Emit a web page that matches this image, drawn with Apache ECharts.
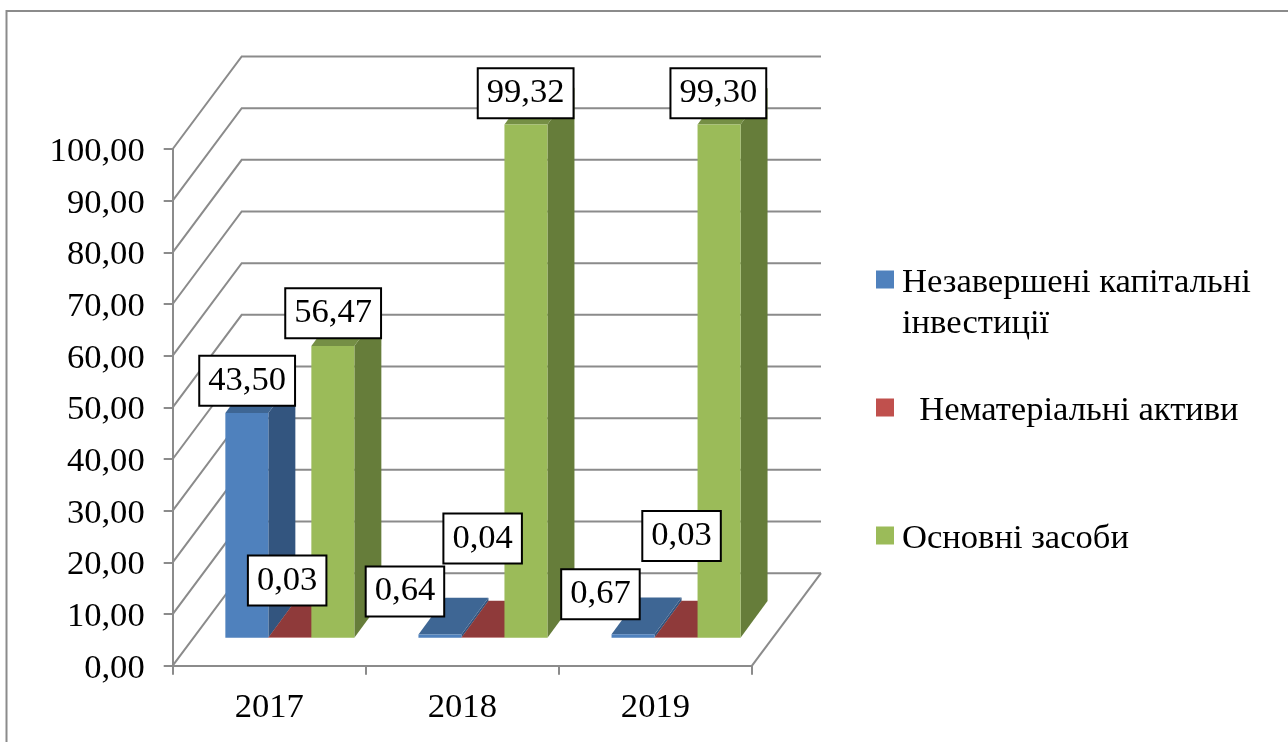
<!DOCTYPE html>
<html><head><meta charset="utf-8">
<style>html,body{margin:0;padding:0;background:#fff}#c{width:1288px;height:742px}</style>
<script src="https://cdn.jsdelivr.net/npm/echarts@6/dist/echarts.min.js"></script>
</head><body><div id="c"></div>
<script>
const categories = ['2017', '2018', '2019'];
const yTicks = [0, 10, 20, 30, 40, 50, 60, 70, 80, 90, 100];
const names = ['Незавершені капітальні інвестиції', 'Нематеріальні активи', 'Основні засоби'];
const unfinished = [43.50, 0.64, 0.67];
const intangible = [0.03, 0.04, 0.03];
const fixedAssets = [56.47, 99.32, 99.30];

const FONT = '"Liberation Serif","Times New Roman",serif';
const FS = 34.6;
const GRAY = '#8b8b8b';
const LW = 2;
const WALL_DX = 69, WALL_DY = 92.5;      // depth of the chart box
const BAR_DX = 27, BAR_DY = 36.7;        // depth of one bar
const FLOOR_DX = 20.6, FLOOR_DY = 28;    // gap from the box front to the bar front
const BAR_W = 43;
// label box nudges relative to the top centre of each bar
const nudges = [
  [[0.3, -32.3], [-35, -43], [-32.6, -40]],
  [[-2.7, -57], [-0.3, -99], [5.5, -101.5]],
  [[0.3, -32.7], [-0.3, -31.3], [-0.7, -31.3]]
];
const palettes = [
  {front: '#4f81bd', side: '#33557f', top: '#3e6694'},
  {front: '#c0504d', side: '#843634', top: '#8f3a3a'},
  {front: '#9bbb59', side: '#667d3a', top: '#758f45'}
];
// square legend key sitting in the upper part of its slot, so it lines up with the text
const LEGEND_ICON = 'path://M0 0H18V18H0ZM0 24H.01V24.01H0Z';
const fmt = v => v.toFixed(2).replace('.', ',');

function poly(points, fill) {
  return {type: 'polygon', shape: {points}, style: {fill, stroke: null}};
}
function barSeries(idx, values) {
  const pal = palettes[idx];
  return {
    name: names[idx], type: 'custom', coordinateSystem: 'cartesian2d',
    itemStyle: {color: pal.front},
    data: values.map((v, i) => [i, v]),
    encode: {x: 0, y: 1},
    renderItem(params, api) {
      const i = api.value(0), v = api.value(1);
      const top = api.coord([i, v]), base = api.coord([i, 0]);
      const l = top[0] + FLOOR_DX + (idx - 1.5) * BAR_W, r = l + BAR_W;
      const yT = top[1] - FLOOR_DY, yB = base[1] - FLOOR_DY;
      const n = nudges[idx][i];
      return {type: 'group', children: [
        poly([[r, yT], [r + BAR_DX, yT - BAR_DY], [r + BAR_DX, yB - BAR_DY], [r, yB]], pal.side),
        poly([[l, yT], [l + BAR_DX, yT - BAR_DY], [r + BAR_DX, yT - BAR_DY], [r, yT]], pal.top),
        poly([[l, yT], [r, yT], [r, yB], [l, yB]], pal.front),
        {type: 'text', z2: 100, style: {
          text: fmt(v), x: l + BAR_W / 2 + n[0], y: yT + n[1],
          align: 'center', verticalAlign: 'middle',
          font: FS + 'px ' + FONT, fill: '#000',
          backgroundColor: '#fff', borderColor: '#000', borderWidth: 2,
          padding: [9, 8, 4, 8]
        }}
      ]};
    }
  };
}
const wallSeries = {
  type: 'custom', coordinateSystem: 'cartesian2d', silent: true, z: 1,
  data: yTicks.map(t => [0, t]),
  renderItem(params, api) {
    const cs = params.coordSys, y = api.coord([0, api.value(1)])[1];
    const line = {stroke: GRAY, lineWidth: LW, fill: null};
    const kids = [{type: 'polyline', shape: {points: [[cs.x, y], [cs.x + WALL_DX, y - WALL_DY], [cs.x + cs.width + WALL_DX, y - WALL_DY]]}, style: line}];
    if (api.value(1) === 0) {
      kids.push({type: 'polyline', shape: {points: [[cs.x + cs.width + WALL_DX, y - WALL_DY], [cs.x + cs.width, y]]}, style: line});
    }
    return {type: 'group', children: kids};
  }
};
function legendAt(name, top, formatter) {
  return {
    left: 876, top, padding: 0, orient: 'vertical', icon: LEGEND_ICON, itemWidth: 18, itemHeight: 24,
    selectedMode: false, data: [name], formatter,
    textStyle: {fontFamily: FONT, fontSize: FS, color: '#000', lineHeight: 41, padding: [6, 0, 0, 3]}
  };
}
const chart = echarts.init(document.getElementById('c'), null, {renderer: 'canvas'});
chart.setOption({
  animation: false, backgroundColor: '#fff',
  grid: {left: 172.7, top: 149, width: 579.3, height: 516.7},
  xAxis: {
    type: 'category', data: categories, boundaryGap: true,
    axisLine: {lineStyle: {color: GRAY, width: LW}},
    axisTick: {show: true, length: 9, lineStyle: {color: GRAY, width: LW}},
    axisLabel: {fontFamily: FONT, fontSize: FS, color: '#000', margin: 25}
  },
  yAxis: {
    type: 'value', min: 0, max: 100, interval: 10, splitLine: {show: false},
    axisLine: {show: true, lineStyle: {color: GRAY, width: LW}},
    axisTick: {show: true, length: 9, lineStyle: {color: GRAY, width: LW}},
    axisLabel: {fontFamily: FONT, fontSize: FS, color: '#000', margin: 28, verticalAlign: 'top', lineHeight: 6, formatter: v => fmt(v)}
  },
  legend: [
    legendAt(names[0], 218, () => '\nНезавершені капітальні\nінвестиції'),
    legendAt(names[1], 387, n => '  ' + n),
    legendAt(names[2], 515, n => n)
  ],
  graphic: [{type: 'polyline', silent: true, z: 0,
    shape: {points: [[6.5, 742], [6.5, 11], [1288, 11]]},
    style: {stroke: GRAY, lineWidth: LW, fill: null}}],
  series: [wallSeries, barSeries(0, unfinished), barSeries(1, intangible), barSeries(2, fixedAssets)]
});
</script></body></html>
